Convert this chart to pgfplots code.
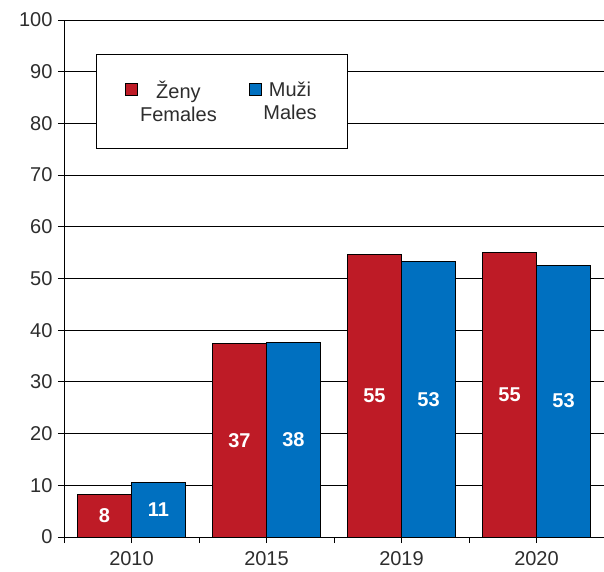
\documentclass[border=0pt]{standalone}
\usepackage{fontspec}
\setmainfont{Liberation Sans}
\usepackage{pgfplots}
\pgfplotsset{compat=1.18}
\usepackage{pgfplotstable}
\definecolor{zred}{RGB}{190,27,38}
\definecolor{mblue}{RGB}{0,112,192}
\definecolor{txt}{RGB}{45,45,45}

% columns: category index, value, printed label
\pgfplotstableread{
x y lab
0 8.2 8
1 37.4 37
2 54.7 55
3 55.0 55
}\females
\pgfplotstableread{
x y lab
0 10.5 11
1 37.6 38
2 53.3 53
3 52.6 53
}\males

\begin{document}
\begin{tikzpicture}[x=1pt,y=1pt]
\useasboundingbox (-64,-34) rectangle (540,537);
\begin{axis}[
  at={(0,0)}, anchor=south west,
  scale only axis, width=540pt, height=517pt,
  xmin=-0.5, xmax=3.5, ymin=0, ymax=100,
  axis x line*=bottom, axis y line*=left,
  axis line style={black, line width=0.9pt},
  ytick={0,10,...,100},
  ymajorgrids, grid style={black, line width=0.9pt},
  xtick={0,1,2,3}, xticklabels={2010,2015,2019,2020},
  extra x ticks={-0.5,0.5,1.5,2.5,3.5}, extra x tick labels={},
  tick align=outside, major tick length=6pt,
  tick style={black, line width=0.9pt},
  ticklabel style={font=\fontsize{20}{20}\selectfont, text=txt},
  /pgf/number format/assume math mode=true,
  xticklabel style={yshift=-5pt},
  yticklabel style={xshift=-2pt},
  ybar=0pt, bar width=0.4,
  point meta=explicit symbolic,
  nodes near coords,
  visualization depends on={rawy \as \rawy},
  nodes near coords style={anchor=center, text=white,
    font=\bfseries\fontsize{20}{20}\selectfont,
    shift={(axis direction cs:0,-\rawy/2)}},
  legend style={at={(0.0593,0.934)}, anchor=north west,
    draw=black, line width=0.9pt, inner xsep=29pt, inner ysep=24pt,
    font=\fontsize{20}{23}\selectfont, text=txt,
    cells={align=center},
    /tikz/every even column/.append style={column sep=30pt}},
  legend columns=2,
  legend image code/.code={\draw[#1, line width=0.6pt] (0pt,6pt) rectangle (12pt,18pt);},
]
\addplot[fill=zred, draw=black, line width=0.6pt] table[x=x, y=y, meta=lab] {\females};
\addplot[fill=mblue, draw=black, line width=0.6pt] table[x=x, y=y, meta=lab] {\males};
\legend{Ženy\\Females, Muži\\Males}
\end{axis}
\end{tikzpicture}
\end{document}
